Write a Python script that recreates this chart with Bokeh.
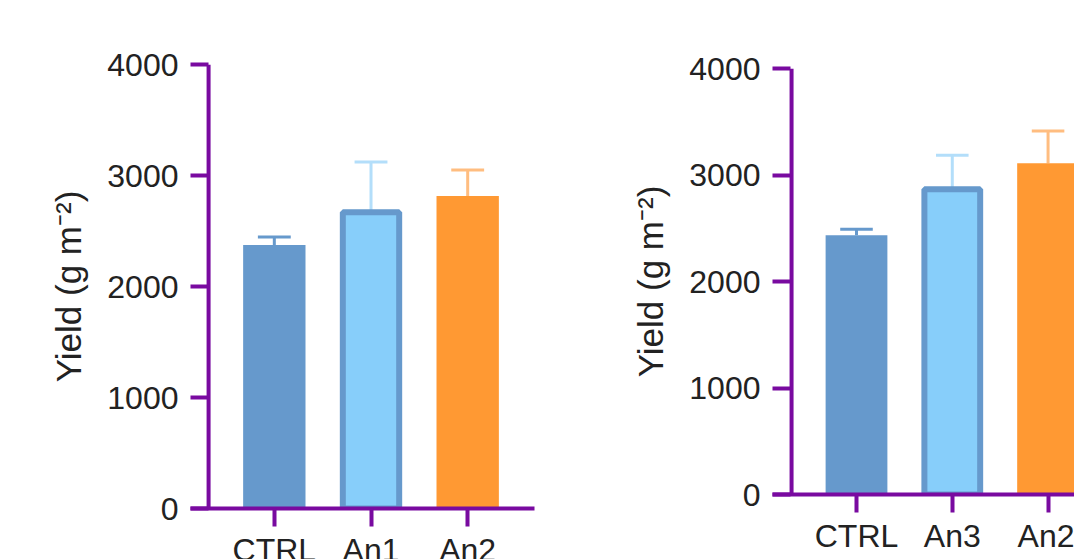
from bokeh.plotting import figure
from bokeh.models import Range1d, FixedTicker, Span, Row, ColumnDataSource
from bokeh.embed import file_html
from bokeh.resources import INLINE

# ---- data ----
categories_1 = ["CTRL", "An1", "An2"]
yield_1 = [2374, 2670, 2815]
sd_1 = [72, 452, 235]

categories_2 = ["CTRL", "An3", "An2"]
yield_2 = [2434, 2866, 3111]
sd_2 = [57, 320, 301]

y_ticks = [0, 1000, 2000, 3000, 4000]
y_label = "Yield (g m\u207b\u00b2)"

# ---- style ----
fill_colors = ["#6699CC", "#87CEFA", "#FF9933"]
err_colors = ["#6699CC", "#B3DEFA", "#FFBD80"]
outline_alpha = [0, 1, 0]
OUTLINE = "#6699CC"
PURPLE = "#790AA0"
TEXT = "#222222"
FONT = "Liberation Sans"
BAR_W = 0.645
CAP_W = 0.34
OUT_PX = 6


def panel(cats, vals, errs, x_start, x_end, axis_x, fw, fh, bl, bt, br, bb):
    p = figure(frame_width=fw, frame_height=fh,
               x_range=Range1d(x_start, x_end), y_range=Range1d(0, 4000),
               output_backend="svg", toolbar_location=None,
               min_border_left=bl, min_border_top=bt, min_border_right=br,
               min_border_bottom=bb)
    p.frame_align = False
    p.outline_line_color = None
    p.xgrid.visible = False
    p.ygrid.visible = False
    p.background_fill_color = "white"
    p.border_fill_color = "white"

    px_per_unit = fw / (x_end - x_start)
    xs = list(range(len(cats)))
    widths = [BAR_W - (OUT_PX / px_per_unit if a else 0) for a in outline_alpha]
    tops = [v + e for v, e in zip(vals, errs)]
    src = ColumnDataSource(dict(
        x=xs, v=vals, top=tops, w=widths, fill=fill_colors, err=err_colors,
        la=outline_alpha,
        c0=[x - CAP_W / 2 for x in xs], c1=[x + CAP_W / 2 for x in xs]))

    # error stems (under bars)
    p.segment(x0="x", y0="v", x1="x", y1="top", line_color="err", line_width=3, source=src)
    # bars
    p.vbar(x="x", top="v", bottom=0, width="w", fill_color="fill",
           line_color=OUTLINE, line_alpha="la", line_width=OUT_PX, source=src)
    # caps
    p.segment(x0="c0", y0="top", x1="c1", y1="top", line_color="err", line_width=3, source=src)

    # y axis line
    p.add_layout(Span(location=axis_x, dimension="height", line_color=PURPLE, line_width=4))

    ya = p.yaxis[0]
    ya.ticker = FixedTicker(ticks=y_ticks)
    ya.minor_tick_line_color = None
    ya.axis_line_color = None
    ya.major_tick_in = 18
    ya.major_tick_out = 0
    ya.major_tick_line_color = PURPLE
    ya.major_tick_line_width = 4
    ya.major_label_standoff = 12
    ya.major_label_text_font = FONT
    ya.major_label_text_font_size = "32px"
    ya.major_label_text_color = TEXT
    ya.axis_label = y_label
    ya.axis_label_text_font = FONT
    ya.axis_label_text_font_size = "35px"
    ya.axis_label_text_font_style = "normal"
    ya.axis_label_text_color = TEXT
    ya.axis_label_standoff = 16

    xa = p.xaxis[0]
    xa.ticker = FixedTicker(ticks=xs)
    xa.major_label_overrides = {i: c for i, c in zip(xs, cats)}
    xa.minor_tick_line_color = None
    xa.axis_line_color = PURPLE
    xa.axis_line_width = 4
    xa.major_tick_in = 0
    xa.major_tick_out = 18
    xa.major_tick_line_color = PURPLE
    xa.major_tick_line_width = 4
    xa.major_label_standoff = 5
    xa.major_label_text_font = FONT
    xa.major_label_text_font_size = "32px"
    xa.major_label_text_color = TEXT
    return p


p1 = panel(categories_1, yield_1, sd_1, -0.867, 2.691, -0.680, 344, 444, 190, 64, 66, 70)
p2 = panel(categories_2, yield_2, sd_2, -0.877, 2.276, -0.678, 302, 426, 172, 68, 0, 80)

layout = Row(children=[p1, p2], spacing=0,
             styles={"max-height": "559px", "overflow": "hidden"})

open("out.html", "w").write(file_html(layout, INLINE))
